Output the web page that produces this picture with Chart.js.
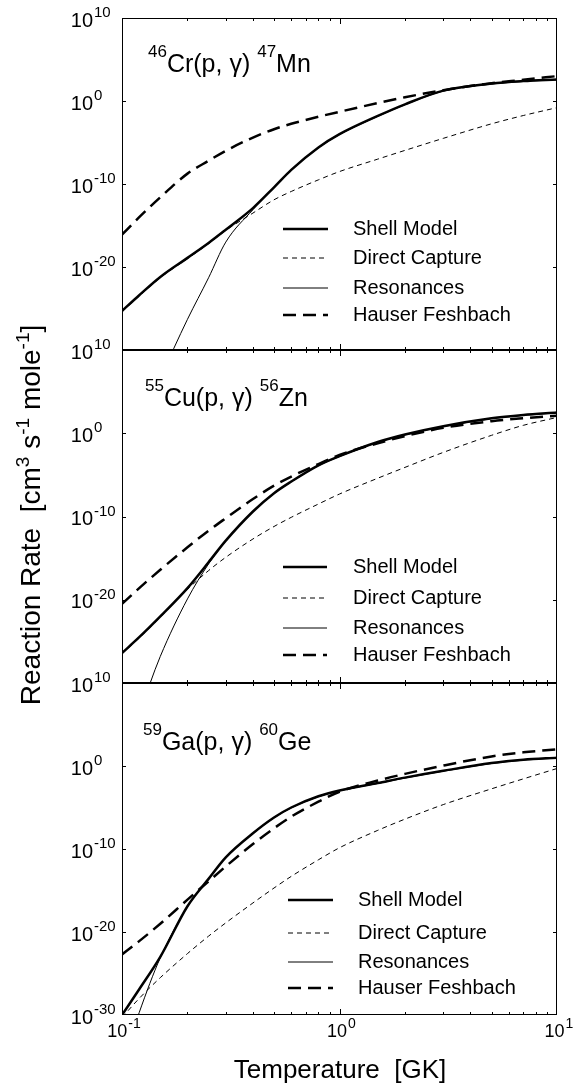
<!DOCTYPE html>
<html>
<head>
<meta charset="UTF-8">
<title>Reaction rates</title>
<script src="https://cdn.jsdelivr.net/npm/chart.js"></script>
<style>
  body { margin: 0; background: #fff; }
  #wrap { position: relative; width: 583px; height: 1083px; }
  #wrap canvas { position: absolute; left: 0; top: 0; }
</style>
</head>
<body>
<div id="wrap">
  <canvas id="c1" width="583" height="1083"></canvas>
  <canvas id="c2" width="583" height="1083"></canvas>
  <canvas id="c3" width="583" height="1083"></canvas>
</div>
<script>
// temperature grid [GK]
const temps = [0.1, 0.12, 0.15, 0.2, 0.25, 0.3, 0.4, 0.5, 0.6, 0.8, 1, 1.5, 2, 3, 5, 7, 10];

// log10 of the rate
const crShell = [-25.3, -23.4, -21.2, -18.9, -17.1, -15.5, -12.9, -10.4, -8.3, -5.6, -4.0, -1.8, -0.4, 1.25, 2.1, 2.4, 2.6];
const crDirect = [-25.4, -23.5, -21.3, -19.0, -17.2, -15.6, -13.5, -11.9, -10.9, -9.5, -8.5, -7.0, -5.95, -4.5, -2.75, -1.75, -0.8];
const crRes = [-43, -38.5, -33.3, -26.3, -21.3, -17.0, -13.1, -10.45, -8.35, -5.65, -4.05, -1.85, -0.45, 1.2, 2.05, 2.35, 2.55];
const crHF = [-16.1, -14.0, -11.6, -8.75, -7.2, -6.0, -4.4, -3.4, -2.75, -1.9, -1.3, -0.25, 0.45, 1.3, 2.15, 2.55, 3.0];

const cuShell = [-26.4, -24.5, -22.0, -18.6, -15.5, -12.9, -9.4, -7.2, -5.8, -3.85, -2.75, -1.05, -0.15, 0.85, 1.8, 2.2, 2.5];
const cuDirect = [-26.5, -24.6, -22.1, -18.75, -16.5, -14.9, -12.7, -11.2, -10.1, -8.5, -7.3, -5.4, -4.1, -2.3, -0.25, 0.95, 1.9];
const cuRes = [-38, -33.5, -26.8, -19.9, -15.7, -12.95, -9.45, -7.25, -5.85, -3.9, -2.8, -1.1, -0.2, 0.8, 1.75, 2.15, 2.45];
const cuHF = [-20.5, -18.6, -16.4, -13.7, -11.7, -10.2, -7.9, -6.3, -5.2, -3.7, -2.6, -1.2, -0.35, 0.65, 1.45, 1.8, 2.1];

const gaShell = [-30.0, -26.9, -23.0, -16.9, -13.6, -11.0, -8.1, -6.2, -5.0, -3.65, -2.95, -2.05, -1.4, -0.58, 0.35, 0.75, 1.0];
const gaDirect = [-30.3, -28.0, -25.5, -22.6, -20.5, -18.9, -16.5, -14.7, -13.3, -11.3, -9.85, -7.75, -6.4, -4.65, -2.75, -1.55, -0.3];
const gaRes = [-36, -29.7, -23.1, -16.95, -13.65, -11.05, -8.15, -6.25, -5.05, -3.7, -3.0, -2.1, -1.45, -0.63, 0.3, 0.7, 0.95];
const gaHF = [-22.7, -21.1, -19.0, -16.1, -13.9, -12.1, -9.4, -7.5, -6.1, -4.3, -3.1, -1.75, -0.95, 0.05, 1.15, 1.65, 2.0];

const seriesNames = ['Shell Model', 'Direct Capture', 'Resonances', 'Hauser Feshbach'];
const yTickExps = [10, 0, -10, -20, -30];
const xTickExps = [-1, 0, 1];

const FONT = '"Liberation Sans", Arial, Helvetica, sans-serif';

// line styles, same order as seriesNames
const styles = [
    { width: 2.5, dash: [] },
    { width: 1, dash: [5, 4] },
    { width: 1, dash: [] },
    { width: 2.5, dash: [13, 7] }
];

function pts(arr) {
    return temps.map((t, i) => ({ x: t, y: Math.pow(10, arr[i]) }));
}

function powLabel(ctx, exp, xRight, yMid, big, small) {
    ctx.font = big + 'px ' + FONT;
    ctx.textAlign = 'right';
    ctx.textBaseline = 'middle';
    ctx.fillText('10', xRight, yMid);
    ctx.font = small + 'px ' + FONT;
    ctx.textAlign = 'left';
    ctx.textBaseline = 'alphabetic';
    ctx.fillText(exp, xRight + 1, yMid - 4);
}

// draws text pieces left to right, sup pieces raised
function pieces(ctx, list, x, y, big, small, rise) {
    ctx.textAlign = 'left';
    ctx.textBaseline = 'alphabetic';
    for (const p of list) {
        ctx.font = (p.sup ? small : big) + 'px ' + FONT;
        ctx.fillText(p.t, x, p.sup ? y - rise : y);
        x += ctx.measureText(p.t).width;
    }
}
function piecesWidth(ctx, list, big, small) {
    let w = 0;
    for (const p of list) {
        ctx.font = (p.sup ? small : big) + 'px ' + FONT;
        w += ctx.measureText(p.t).width;
    }
    return w;
}

function decor(panel) {
    return {
        id: 'decor',
        afterDraw(chart) {
            const ctx = chart.ctx, a = chart.chartArea;
            const xs = chart.scales.x, ys = chart.scales.y;
            ctx.save();
            ctx.strokeStyle = '#000';
            ctx.fillStyle = '#000';
            ctx.setLineDash([]);

            // frame
            ctx.lineWidth = 1;
            ctx.beginPath();
            ctx.moveTo(a.left + 0.5, a.top);
            ctx.lineTo(a.left + 0.5, a.bottom);
            ctx.moveTo(a.right - 0.5, a.top);
            ctx.lineTo(a.right - 0.5, a.bottom);
            ctx.stroke();
            ctx.lineWidth = panel.first ? 1 : 2;
            ctx.beginPath();
            ctx.moveTo(a.left, a.top + (panel.first ? 0.5 : 0));
            ctx.lineTo(a.right, a.top + (panel.first ? 0.5 : 0));
            ctx.stroke();
            ctx.lineWidth = panel.last ? 1 : 2;
            ctx.beginPath();
            ctx.moveTo(a.left, a.bottom - (panel.last ? 0.5 : 0));
            ctx.lineTo(a.right, a.bottom - (panel.last ? 0.5 : 0));
            ctx.stroke();

            // x ticks, inward on top and bottom
            ctx.lineWidth = 1;
            ctx.beginPath();
            for (let d = -1; d <= 0; d++) {
                for (let m = 1; m <= 9; m++) {
                    const v = m * Math.pow(10, d);
                    if (v <= 0.1) continue;
                    const px = Math.round(xs.getPixelForValue(v)) + 0.5;
                    const len = m === 1 ? 6 : 3;
                    ctx.moveTo(px, a.top);
                    ctx.lineTo(px, a.top + len);
                    ctx.moveTo(px, a.bottom);
                    ctx.lineTo(px, a.bottom - len);
                }
            }
            // y ticks at decades
            for (let e = -20; e <= 0; e += 10) {
                const py = Math.round(ys.getPixelForValue(Math.pow(10, e))) + 0.5;
                ctx.moveTo(a.left, py);
                ctx.lineTo(a.left + 4, py);
                ctx.moveTo(a.right, py);
                ctx.lineTo(a.right - 4, py);
            }
            ctx.stroke();

            // y tick labels
            for (const e of yTickExps) {
                if (e === -30 && !panel.last) continue;
                const py = ys.getPixelForValue(Math.pow(10, e));
                powLabel(ctx, String(e), 93, py + 3, 20, 15);
            }

            // x tick labels on the last panel
            if (panel.last) {
                for (const e of xTickExps) {
                    const px = xs.getPixelForValue(Math.pow(10, e));
                    ctx.font = '18px ' + FONT;
                    const w10 = ctx.measureText('10').width;
                    ctx.font = '14px ' + FONT;
                    const we = ctx.measureText(String(e)).width;
                    const start = px + 2 - (w10 + 1 + we) / 2;
                    powLabel(ctx, String(e), start + w10, 1032, 18, 14);
                }
                ctx.font = '26px ' + FONT;
                ctx.textAlign = 'center';
                ctx.textBaseline = 'alphabetic';
                ctx.fillText('Temperature  [GK]', 340, 1078);
            }

            // y axis title, drawn once
            if (panel.first) {
                const list = [
                    { t: 'Reaction Rate  [cm' }, { t: '3', sup: true }, { t: ' s' },
                    { t: '-1', sup: true }, { t: ' mole' }, { t: '-1', sup: true }, { t: ']' }
                ];
                ctx.save();
                ctx.translate(40, 515);
                ctx.rotate(-Math.PI / 2);
                const w = piecesWidth(ctx, list, 28, 19);
                pieces(ctx, list, -w / 2, 0, 28, 19, 11);
                ctx.restore();
            }

            // reaction label
            pieces(ctx, panel.title, panel.titleX, panel.titleY, 25, 17, 15);

            // legend
            panel.legendY.forEach((ly, i) => {
                const s = styles[i];
                ctx.lineWidth = s.width;
                ctx.setLineDash(s.dash);
                ctx.beginPath();
                ctx.moveTo(panel.lineX[0], ly);
                ctx.lineTo(panel.lineX[1], ly);
                ctx.stroke();
                ctx.setLineDash([]);
                ctx.font = '20px ' + FONT;
                ctx.textAlign = 'left';
                ctx.textBaseline = 'middle';
                ctx.fillText(seriesNames[i], panel.textX, ly);
            });
            ctx.restore();
        }
    };
}

function makePanel(id, series, panel) {
    const ds = [0, 3, 2, 1].map(i => ({
        label: seriesNames[i],
        data: pts(series[i]),
        borderColor: '#000',
        borderWidth: styles[i].width,
        borderDash: styles[i].dash,
        pointRadius: 0,
        fill: false,
        cubicInterpolationMode: 'monotone'
    }));
    return new Chart(document.getElementById(id), {
        type: 'line',
        data: { datasets: ds },
        options: {
            responsive: false,
            animation: false,
            events: [],
            layout: { padding: { left: 122, right: 26, top: panel.top, bottom: 1083 - panel.bottom } },
            plugins: { legend: { display: false }, tooltip: { enabled: false } },
            scales: {
                x: { type: 'logarithmic', min: 0.1, max: 10, display: false },
                y: { type: 'logarithmic', min: 1e-30, max: 1e10, display: false }
            }
        },
        plugins: [decor(panel)]
    });
}

makePanel('c1', [crShell, crDirect, crRes, crHF], {
    top: 18, bottom: 350, first: true, last: false,
    title: [{ t: '46', sup: true }, { t: 'Cr(p, γ) ' }, { t: '47', sup: true }, { t: 'Mn' }],
    titleX: 148, titleY: 72,
    legendY: [229, 258, 288, 315], lineX: [283, 328], textX: 353
});
makePanel('c2', [cuShell, cuDirect, cuRes, cuHF], {
    top: 350, bottom: 683, first: false, last: false,
    title: [{ t: '55', sup: true }, { t: 'Cu(p, γ) ' }, { t: '56', sup: true }, { t: 'Zn' }],
    titleX: 145, titleY: 406,
    legendY: [567, 598, 628, 655], lineX: [283, 327], textX: 353
});
makePanel('c3', [gaShell, gaDirect, gaRes, gaHF], {
    top: 683, bottom: 1015, first: false, last: true,
    title: [{ t: '59', sup: true }, { t: 'Ga(p, γ) ' }, { t: '60', sup: true }, { t: 'Ge' }],
    titleX: 143, titleY: 750,
    legendY: [900, 933, 962, 988], lineX: [288, 333], textX: 358
});
</script>
</body>
</html>
